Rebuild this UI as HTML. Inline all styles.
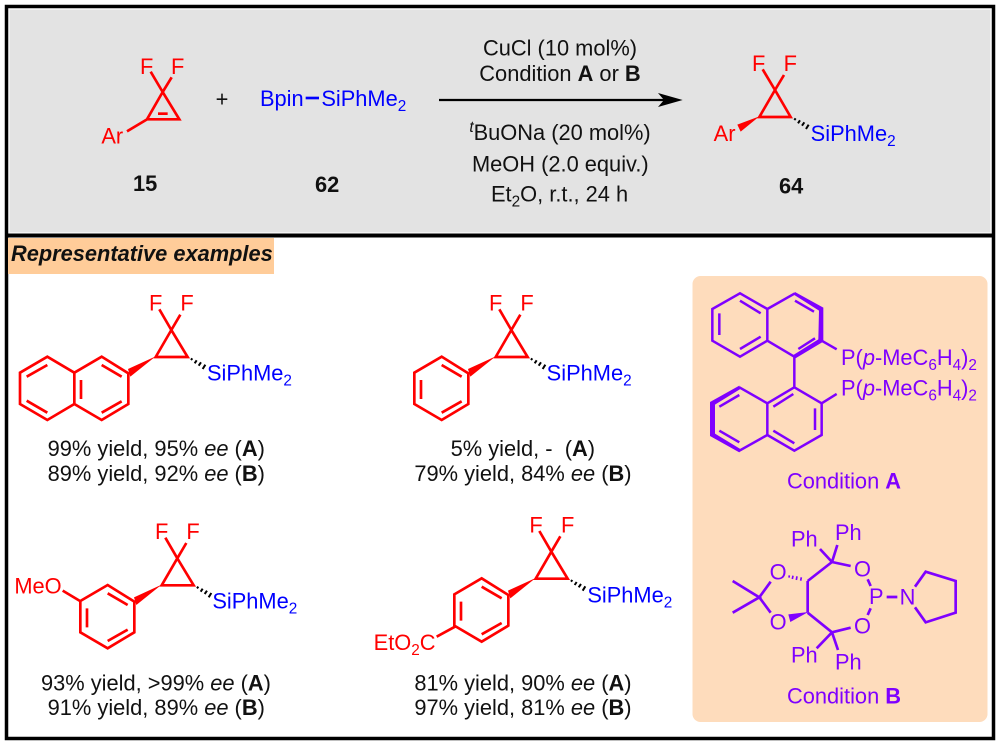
<!DOCTYPE html>
<html><head><meta charset="utf-8"><style>
html,body{margin:0;padding:0;background:#fff}
svg{display:block}
text{font-family:"Liberation Sans",Arial,sans-serif;font-size:65.500px}
.r{fill:#ff0000}.b{fill:#0000ff}.k{fill:#111}.p{fill:#7f00ff}
.s{font-size:46px}
.st{fill:none;stroke-width:8;stroke-linecap:butt;stroke-linejoin:miter}
</style></head><body>
<svg width="1000" height="745" viewBox="0 0 1000 745" xmlns="http://www.w3.org/2000/svg">
<defs>
<g id="core" fill="none" stroke="#ff0000" stroke-width="8">
<path d="M514 150L467 231L563 231Z M514 150L478 88 M514 150L541 104"/>
<polygon points="467,229 384,267 391,290" fill="#ff0000" stroke="none"/>
<path stroke="#000" stroke-width="6" d="M573 240L577 235M584 250L590 241M596 257L603 247M608 267L616 254"/>
</g>
<g id="ph" fill="none" stroke="#ff0000" stroke-width="8">
<path d="M385 280L385 372L305 420L223 372L223 278L305 230Z"/>
<path d="M305 255L365 290M243 300L243 357M305 398L365 364"/>
</g>
</defs>
<rect width="1000" height="745" fill="#fff"/>
<rect x="9" y="9" width="982" height="224" fill="#f4f4f4"/>
<rect x="10" y="10" width="980" height="222" fill="#e3e3e3"/>
<rect x="6.500" y="6.500" width="987" height="732" fill="none" stroke="#000" stroke-width="3.500"/>
<rect x="6" y="233.500" width="988" height="4" fill="#000"/>
<rect x="8" y="238" width="266" height="36" fill="#ffcc99"/>
<text x="11" y="261" style="font-size:21.800px;font-weight:bold;font-style:italic" fill="#111">Representative examples</text>
<rect x="692.500" y="276" width="295" height="446" rx="8" fill="#fedcbc"/>

<!-- top left -->
<g transform="scale(.33333)">
<path class="st" stroke="#ff0000" d="M488 276L441 358L538 358Z M488 276L452 215 M488 276L515 232 M441 358L381 394"/>
<path d="M474 341H503" stroke="#ff0000" stroke-width="8"/>
<text x="420" y="222" class="r">F</text><text x="513" y="222" class="r">F</text>
<text x="304" y="430" class="r">Ar</text>
<text x="666" y="319" class="k" text-anchor="middle">+</text>
<text x="780" y="318" class="b">Bpin</text>
<path d="M917 294H957" stroke="#0000ff" stroke-width="8"/>
<text x="964" y="318" class="b">SiPhMe<tspan class="s" dy="15">2</tspan></text>
<text x="399" y="573" class="k" style="font-weight:bold">15</text>
<text x="945" y="576" class="k" style="font-weight:bold">62</text>
</g>

<!-- conditions + arrow -->
<g transform="translate(440,20) scale(.33333)">
<path d="M-3 240H680" stroke="#000" stroke-width="7"/>
<path d="M728 240L654 219L672 240L654 261Z" fill="#000"/>
<text x="360" y="107" class="k" text-anchor="middle">CuCl (10 mol%)</text>
<text x="360" y="183" class="k" text-anchor="middle">Condition <tspan style="font-weight:bold">A</tspan> or <tspan style="font-weight:bold">B</tspan></text>
<text x="88" y="360" class="k"><tspan class="s" dy="-24" style="font-style:italic">t</tspan><tspan dy="24">BuONa (20 mol%)</tspan></text>
<text x="361" y="455" class="k" text-anchor="middle">MeOH (2.0 equiv.)</text>
<text x="153" y="545" class="k">Et<tspan class="s" dy="15">2</tspan><tspan dy="-15">O, r.t., 24 h</tspan></text>
<path class="st" stroke="#ff0000" d="M1005 210L958 291L1052 291Z M1005 210L968 148 M1005 210L1032 165"/>
<polygon points="958,289 892,314 902,335" fill="#ff0000"/>
<path stroke="#000" stroke-width="6" d="M1063 300L1067 295M1074 310L1080 301M1086 317L1093 307M1098 327L1106 314"/>
<text x="936" y="153" class="r">F</text><text x="1031" y="153" class="r">F</text>
<text x="821" y="363" class="r">Ar</text>
<text x="1112" y="363" class="b">SiPhMe<tspan class="s" dy="15">2</tspan></text>
<text x="1017" y="520" class="k" style="font-weight:bold">64</text>
</g>

<!-- product 1 -->
<g transform="translate(0,280) scale(.33333)">
<use href="#core"/><use href="#ph"/>
<path fill="none" stroke="#ff0000" stroke-width="8" d="M223 278L142 230L60 278L60 372L142 420L223 372M142 255L80 290M80 362L142 398"/>
<text x="447" y="92" class="r">F</text><text x="541" y="92" class="r">F</text>
<text x="621" y="302" class="b">SiPhMe<tspan class="s" dy="15">2</tspan></text>
<text x="143" y="528" class="k">99% yield, 95% <tspan style="font-style:italic">ee</tspan> (<tspan style="font-weight:bold">A</tspan>)</text>
<text x="143" y="603" class="k">89% yield, 92% <tspan style="font-style:italic">ee</tspan> (<tspan style="font-weight:bold">B</tspan>)</text>
</g>

<!-- product 2 -->
<g transform="translate(340,280) scale(.33333)">
<use href="#core"/><use href="#ph"/>
<text x="447" y="92" class="r">F</text><text x="541" y="92" class="r">F</text>
<text x="620" y="302" class="b">SiPhMe<tspan class="s" dy="15">2</tspan></text>
<text x="332" y="528" class="k">5% yield, -&#160; (<tspan style="font-weight:bold">A</tspan>)</text>
<text x="223" y="603" class="k">79% yield, 84% <tspan style="font-style:italic">ee</tspan> (<tspan style="font-weight:bold">B</tspan>)</text>
</g>

<!-- product 3 -->
<g transform="translate(6,508.330) scale(.33333)">
<use href="#core"/><use href="#ph"/>
</g>
<g transform="translate(0,500) scale(.33333)">
<path d="M240 303L188 272" stroke="#ff0000" stroke-width="8"/>
<text x="43" y="280" class="r">MeO</text>
<text x="465" y="117" class="r">F</text><text x="559" y="117" class="r">F</text>
<text x="637" y="325" class="b">SiPhMe<tspan class="s" dy="15">2</tspan></text>
<text x="123" y="572" class="k">93% yield, &gt;99% <tspan style="font-style:italic">ee</tspan> (<tspan style="font-weight:bold">A</tspan>)</text>
<text x="143" y="645" class="k">91% yield, 89% <tspan style="font-style:italic">ee</tspan> (<tspan style="font-weight:bold">B</tspan>)</text>
</g>

<!-- product 4 -->
<g transform="translate(380,501.670) scale(.33333)">
<use href="#core"/><use href="#ph"/>
</g>
<g transform="translate(340,500) scale(.33333)">
<path d="M345 380L290 410" stroke="#ff0000" stroke-width="8"/>
<text x="101" y="450" class="r">EtO<tspan class="s" dy="15">2</tspan><tspan dy="-15">C</tspan></text>
<text x="568" y="98" class="r">F</text><text x="663" y="98" class="r">F</text>
<text x="742" y="308" class="b">SiPhMe<tspan class="s" dy="15">2</tspan></text>
<text x="223" y="572" class="k">81% yield, 90% <tspan style="font-style:italic">ee</tspan> (<tspan style="font-weight:bold">A</tspan>)</text>
<text x="223" y="645" class="k">97% yield, 81% <tspan style="font-style:italic">ee</tspan> (<tspan style="font-weight:bold">B</tspan>)</text>
</g>

<!-- BINAP -->
<g transform="translate(680,270) scale(.33333)">
<g fill="none" stroke="#7f00ff" stroke-width="7.500">
<path d="M345 70L262 117L180 70L97 117L97 212L180 260L262 212L262 117M262 212L343 260L343 352L262 400L262 495L343 542L425 495L425 400L343 352M425 212L470 238M425 400L470 372"/>
<path d="M180 92L242 130M118 130V195M180 237L242 200M345 92L402 125M355 237L405 205"/>
<path d="M262 400L178 352M97 495L178 542L262 495M118 482L178 517M118 410L178 375M280 410L340 372M405 415V480M280 482L343 520"/>
</g>
<polygon points="345,66 430,113 430,215 345,266 340,255 415,208 417,122 343,75" fill="#7f00ff"/>
<polygon points="178,347 90,396 90,498 178,547 181,537 105,491 105,404 181,357" fill="#7f00ff"/>
<text x="483" y="285" class="p">P(<tspan style="font-style:italic">p</tspan>-MeC<tspan class="s" dy="15">6</tspan><tspan dy="-15">H</tspan><tspan class="s" dy="15">4</tspan><tspan dy="-15">)</tspan><tspan class="s" dy="15">2</tspan></text>
<text x="483" y="377" class="p">P(<tspan style="font-style:italic">p</tspan>-MeC<tspan class="s" dy="15">6</tspan><tspan dy="-15">H</tspan><tspan class="s" dy="15">4</tspan><tspan dy="-15">)</tspan><tspan class="s" dy="15">2</tspan></text>
<text x="321" y="655" class="p">Condition <tspan style="font-weight:bold">A</tspan></text>
</g>

<!-- TADDOL -->
<g transform="translate(680,500) scale(.33333)">
<g fill="none" stroke="#7f00ff" stroke-width="8">
<path d="M158 243L238 292L158 338M238 292L272 245M238 292L272 338M383 243V338M383 243L456 186M383 338L456 397M456 186L512 198M456 397L512 383M456 186L472 135M456 186L420 147M456 397L474 450M456 397L410 445M563 238L572 258M572 325L563 345M620 291H652M705 260L737 215L827 243L827 338L737 367L705 322"/>
<path stroke-width="5" d="M364 232L362 242M351 229L349 240M339 227L337 237M328 226L327 233"/>
</g>
<polygon points="385,336 325,343 331,366" fill="#7f00ff"/>
<text x="333" y="140" class="p">Ph</text><text x="465" y="120" class="p">Ph</text>
<text x="333" y="487" class="p">Ph</text><text x="465" y="509" class="p">Ph</text>
<text x="269" y="238" class="p">O</text><text x="269" y="388" class="p">O</text>
<text x="522" y="230" class="p">O</text><text x="522" y="400" class="p">O</text>
<text x="567" y="312" class="p">P</text>
<text x="659" y="313" class="p">N</text>
<text x="321" y="610" class="p">Condition <tspan style="font-weight:bold">B</tspan></text>
</g>
</svg>
</body></html>
